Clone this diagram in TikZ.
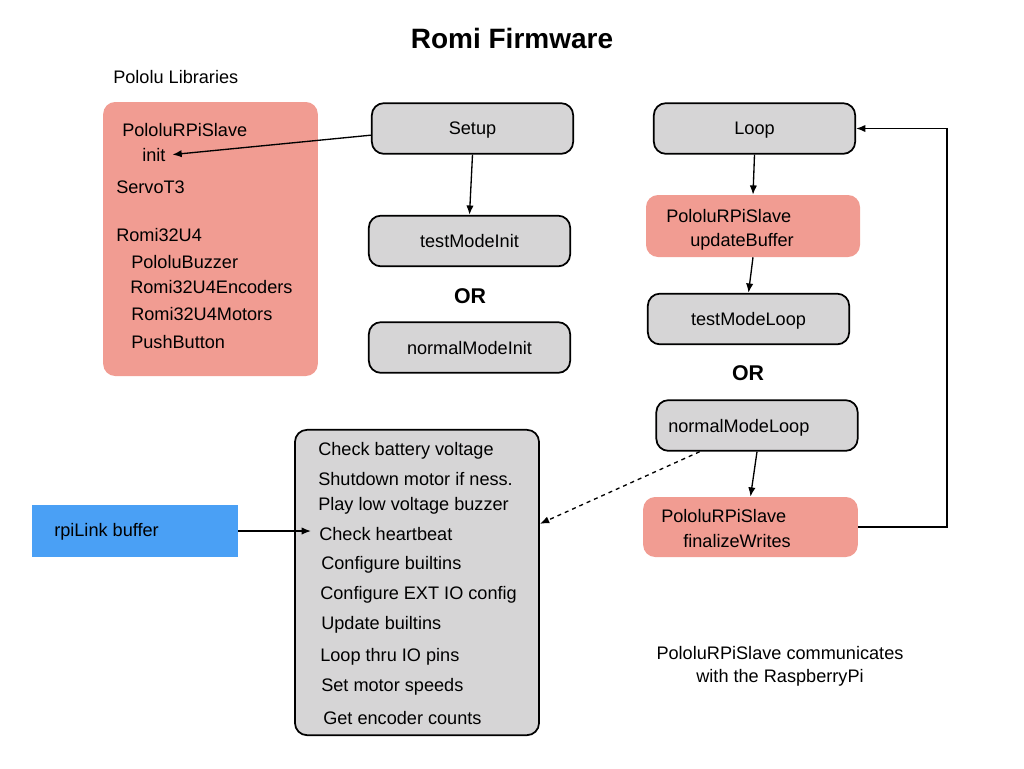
\documentclass[tikz,border=0pt]{standalone}
\usepackage{fontspec}
\setmainfont{Liberation Sans}
\usetikzlibrary{arrows.meta}
\definecolor{libpink}{RGB}{241,156,146}
\definecolor{boxgray}{RGB}{214,213,214}
\definecolor{linkblue}{RGB}{74,160,245}
\tikzset{
	txt/.style={font=\fontsize{13.6}{17}\selectfont, inner sep=0pt},
	ltxt/.style={txt, anchor=west, yshift=-1.2pt},
	graybox/.style={draw, fill=boxgray, line width=1.3pt, rounded corners=9pt, minimum width=151pt, minimum height=38pt, txt, text depth=0pt},
	pinkbox/.style={fill=libpink, rounded corners=9pt, inner sep=0pt},
	conn/.style={line width=1pt, -{Latex[length=7pt,width=5.5pt]}}
}
\begin{document}
\begin{tikzpicture}[x=0.75pt, y=-0.75pt]
		
		\useasboundingbox (0,0) rectangle (1024,768);
		
		\node[font=\bfseries\fontsize{21}{24}\selectfont] (title) at (512,38) {Romi Firmware};
		\node[ltxt] (pololulibs) at (113,75) {Pololu Libraries};
		
		\node[pinkbox, minimum width=161pt, minimum height=205.5pt] (libs) at (210.5,239) {};
		\node[ltxt] (slave) at (122,128) {PololuRPiSlave};
		\node[ltxt] (init) at (142,153) {init};
		\node[ltxt] (servo) at (116,186) {ServoT3};
		\node[ltxt] (romi) at (116,233) {Romi32U4};
		\node[ltxt] (buzzer) at (131,260) {PololuBuzzer};
		\node[ltxt] (encoders) at (130,285) {Romi32U4Encoders};
		\node[ltxt] (motors) at (131,312) {Romi32U4Motors};
		\node[ltxt] (button) at (131,340) {PushButton};
		
		\node[graybox] (setup) at (472.5,128.5) {Setup};
		\node[graybox] (tinit) at (469.5,241) {testModeInit};
		\node[txt, font=\bfseries\fontsize{16}{19}\selectfont] (or1) at (470,296) {OR};
		\node[graybox] (ninit) at (469.5,347.5) {normalModeInit};
		
		\node[graybox] (loop) at (754.5,128.5) {Loop};
		\node[pinkbox, minimum width=160.5pt, minimum height=46.5pt] (update) at (753,226) {};
		\node[ltxt] (upslave) at (666,214) {PololuRPiSlave};
		\node[ltxt] (upbuffer) at (690,240) {updateBuffer};
		\node[graybox] (tloop) at (748.5,319) {testModeLoop};
		\node[txt, font=\bfseries\fontsize{16}{19}\selectfont] (or2) at (748,373) {OR};
		\node[graybox] (nloop) at (757,425.5) {};
		\node[ltxt] (nlooptxt) at (668,426) {normalModeLoop};
		\node[pinkbox, minimum width=161pt, minimum height=45pt] (final) at (750.5,527) {};
		\node[ltxt] (finslave) at (661,514) {PololuRPiSlave};
		\node[ltxt] (finwrites) at (683,539) {finalizeWrites};
		
		\node[graybox, minimum width=183pt, minimum height=229pt] (checks) at (417,582.5) {};
		\node[ltxt] (battery) at (318,449) {Check battery voltage};
		\node[ltxt] (shutdown) at (318,477) {Shutdown motor if ness.};
		\node[ltxt] (lowbuzz) at (318,504) {Play low voltage buzzer};
		\node[ltxt] (heart) at (319,532) {Check heartbeat};
		\node[ltxt] (confbuilt) at (321,563) {Configure builtins};
		\node[ltxt] (confext) at (320,593) {Configure EXT IO config};
		\node[ltxt] (updbuilt) at (321,623) {Update builtins};
		\node[ltxt] (iopins) at (320,655) {Loop thru IO pins};
		\node[ltxt] (speeds) at (321,685) {Set motor speeds};
		\node[ltxt] (counts) at (323,716) {Get encoder counts};
		
		\node[fill=linkblue, minimum width=154.5pt, minimum height=39pt, inner sep=0pt] (rpilink) at (135,531) {};
		\node[ltxt] (rpitxt) at (54,530) {rpiLink buffer};
		
		\node[txt, align=center, yshift=-1.2pt] (note) at (780,665) {PololuRPiSlave communicates\\with the RaspberryPi};
		
		\draw[conn] ([yshift=-5pt]setup.west) -- ([xshift=5pt]init.east);
		\draw[conn] (setup.south) -- (tinit.north);
		\draw[conn] (loop.south) -- (update.north);
		\draw[conn] (update.south) -- (tloop.north);
		\draw[conn] (nloop.south) -- (final.north);
		\coordinate (turn) at (947,527);
		\draw[conn] (final.east) -- (turn) |- (loop.east);
		\draw[conn, dashed] ([xshift=-43pt]nloop.south) -- ([yshift=44pt]checks.east);
		\draw[conn] (rpilink.east) -- ([xshift=-6pt]heart.west |- rpilink.east);
		\end{tikzpicture}
\end{document}
